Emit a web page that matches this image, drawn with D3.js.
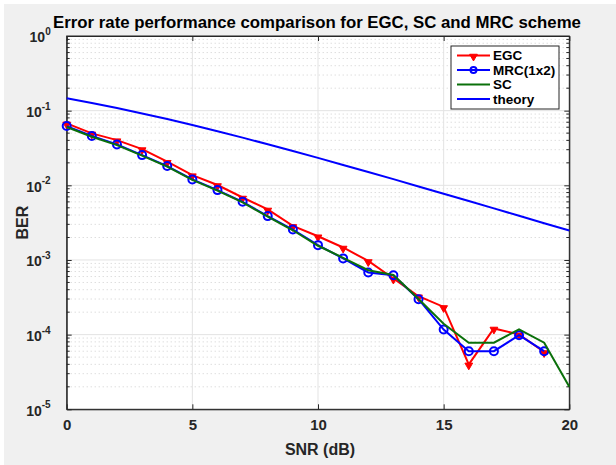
<!DOCTYPE html>
<html>
<head>
<meta charset="utf-8">
<script src="https://cdn.jsdelivr.net/npm/d3@7"></script>
<style>
  html, body { margin: 0; padding: 0; background: #fff; }
  text { font-family: "Liberation Sans", Arial, sans-serif; font-weight: bold; fill: #262626; }
</style>
</head>
<body>
<div id="chart"></div>
<script>
// SNR points (dB)
const snr = [0, 1, 2, 3, 4, 5, 6, 7, 8, 9, 10, 11, 12, 13, 14, 15, 16, 17, 18, 19];
const snrTheory = [0, 1, 2, 3, 4, 5, 6, 7, 8, 9, 10, 11, 12, 13, 14, 15, 16, 17, 18, 19, 20];

const egc = [0.0676, 0.0496, 0.0403, 0.0306, 0.0207, 0.0137, 0.0101, 0.00687, 0.00475, 0.00286,
  0.00208, 0.00147, 0.00097, 0.000565, 0.000327, 0.000235, 0.00004, 0.000121, 0.000101, 0.0000586];
const mrc = [0.0622, 0.0457, 0.0353, 0.0254, 0.0181, 0.0120, 0.00863, 0.00601, 0.00387, 0.00256,
  0.00158, 0.00105, 0.00068, 0.000625, 0.000298, 0.000117, 0.00006, 0.00006, 0.0000982, 0.00006];
const sc = [0.0605, 0.0447, 0.0345, 0.0250, 0.0178, 0.0118, 0.0085, 0.0059, 0.0038, 0.0025,
  0.00155, 0.00107, 0.00073, 0.00063, 0.0003, 0.00014, 0.000078, 0.000078, 0.000118, 0.000078, 0.00002];
const theory = [0.1464, 0.1267, 0.1085, 0.0919, 0.0771, 0.0642, 0.0530, 0.0435, 0.0355, 0.0288,
  0.0233, 0.0187, 0.0151, 0.0121, 0.00966, 0.00772, 0.00616, 0.00491, 0.00391, 0.00311, 0.00248];

const xTicks = [0, 5, 10, 15, 20];
const yExponents = [0, -1, -2, -3, -4, -5];

const legendItems = [
  { name: "EGC", color: "#ff0000", marker: "tri" },
  { name: "MRC(1x2)", color: "#0000ff", marker: "circle" },
  { name: "SC", color: "#0a700a", marker: null },
  { name: "theory", color: "#0000ff", marker: null }
];

const width = 616, height = 465;
const margin = { top: 36, right: 46.7, bottom: 55.7, left: 66.7 };

const svg = d3.select("#chart").append("svg")
  .attr("width", width).attr("height", height);

// figure background
svg.append("rect").attr("x", 4).attr("y", 4)
  .attr("width", width - 4).attr("height", height - 4)
  .attr("fill", "#f0f0f0");

const x = d3.scaleLinear().domain([0, 20])
  .range([margin.left, width - margin.right]);
const y = d3.scaleLog().domain([1e-5, 1])
  .range([height - margin.bottom, margin.top]);

svg.append("rect")
  .attr("x", x(0)).attr("y", y(1))
  .attr("width", x(20) - x(0)).attr("height", y(1e-5) - y(1))
  .attr("fill", "#fff");

// minor grid (dotted)
const minor = [];
for (let e = -5; e < 0; e++) for (let m = 2; m <= 9; m++) minor.push(m * Math.pow(10, e));
svg.append("g").selectAll("line").data(minor).join("line")
  .attr("x1", x(0)).attr("x2", x(20))
  .attr("y1", d => y(d)).attr("y2", d => y(d))
  .attr("stroke", "#cfcfcf").attr("stroke-width", 1)
  .attr("stroke-dasharray", "1,3");

// major grid
svg.append("g").selectAll("line").data(yExponents.slice(1, -1)).join("line")
  .attr("x1", x(0)).attr("x2", x(20))
  .attr("y1", d => y(Math.pow(10, d))).attr("y2", d => y(Math.pow(10, d)))
  .attr("stroke", "#e3e3e3").attr("stroke-width", 1);
svg.append("g").selectAll("line").data(xTicks.slice(1, -1)).join("line")
  .attr("x1", d => x(d)).attr("x2", d => x(d))
  .attr("y1", y(1)).attr("y2", y(1e-5))
  .attr("stroke", "#e3e3e3").attr("stroke-width", 1);

// axes
const xAxis = svg.append("g")
  .attr("transform", `translate(0,${y(1e-5)})`)
  .call(d3.axisBottom(x).tickValues(xTicks).tickSizeInner(-5).tickSizeOuter(0).tickPadding(10));
xAxis.selectAll("text").attr("font-size", 15).attr("dy", "0.7em");

svg.append("g")
  .attr("transform", `translate(0,${y(1)})`)
  .call(d3.axisTop(x).tickValues(xTicks).tickSizeInner(-5).tickSizeOuter(0).tickFormat(""));

const yAxis = svg.append("g")
  .attr("transform", `translate(${x(0)},0)`)
  .call(d3.axisLeft(y).tickValues(yExponents.map(e => Math.pow(10, e)))
    .tickSizeInner(-5).tickSizeOuter(0).tickPadding(16).tickFormat(""));
yAxis.selectAll(".tick text")
  .attr("font-size", 14).attr("dy", "0.42em")
  .each(function(d) {
    const t = d3.select(this);
    t.append("tspan").text("10");
    t.append("tspan").attr("font-size", 10).attr("dy", "-0.75em")
      .text(Math.round(Math.log10(d)));
  });

svg.append("g")
  .attr("transform", `translate(${x(20)},0)`)
  .call(d3.axisRight(y).tickValues(yExponents.map(e => Math.pow(10, e)))
    .tickSizeInner(-5).tickSizeOuter(0).tickFormat(""));

// minor ticks on left/right
svg.append("g").selectAll("line").data(minor).join("line")
  .attr("x1", x(0)).attr("x2", x(0) + 3)
  .attr("y1", d => y(d)).attr("y2", d => y(d)).attr("stroke", "#262626");
svg.append("g").selectAll("line").data(minor).join("line")
  .attr("x1", x(20)).attr("x2", x(20) - 3)
  .attr("y1", d => y(d)).attr("y2", d => y(d)).attr("stroke", "#262626");

svg.selectAll(".domain").attr("stroke", "#262626");
svg.selectAll(".tick line").attr("stroke", "#262626");
svg.append("rect")
  .attr("x", x(0)).attr("y", y(1))
  .attr("width", x(20) - x(0)).attr("height", y(1e-5) - y(1))
  .attr("fill", "none").attr("stroke", "#262626").attr("stroke-width", 1);

// series
const line = d3.line().x(d => x(d[0])).y(d => y(d[1]));
const tri = d3.symbol().type(d3.symbolTriangle).size(26);

function drawSeries(xs, ys, color, marker) {
  const pts = xs.map((d, i) => [d, ys[i]]);
  svg.append("path").datum(pts)
    .attr("fill", "none").attr("stroke", color).attr("stroke-width", 2)
    .attr("d", line);
  if (marker === "tri") {
    svg.append("g").selectAll("path").data(pts).join("path")
      .attr("d", tri)
      .attr("transform", d => `translate(${x(d[0])},${y(d[1]) + 1}) rotate(180)`)
      .attr("fill", color).attr("stroke", color).attr("stroke-width", 1);
  } else if (marker === "circle") {
    svg.append("g").selectAll("circle").data(pts).join("circle")
      .attr("cx", d => x(d[0])).attr("cy", d => y(d[1])).attr("r", 4)
      .attr("fill", "none").attr("stroke", color).attr("stroke-width", 2);
  }
}

drawSeries(snrTheory, theory, "#0000ff", null);
drawSeries(snr, egc, "#ff0000", "tri");
drawSeries(snr, mrc, "#0000ff", "circle");
drawSeries(snrTheory, sc, "#0a700a", null);

// title and labels
svg.append("text")
  .attr("x", 317).attr("y", 28)
  .attr("text-anchor", "middle").attr("font-size", 16.8)
  .style("fill", "#000")
  .text("Error rate performance comparison for EGC, SC and MRC scheme");

svg.append("text")
  .attr("x", 320).attr("y", 455)
  .attr("text-anchor", "middle").attr("font-size", 16)
  .text("SNR (dB)");

svg.append("text")
  .attr("transform", `translate(28,${(y(1) + y(1e-5)) / 2}) rotate(-90)`)
  .attr("text-anchor", "middle").attr("font-size", 16)
  .text("BER");

// legend
const lg = svg.append("g").attr("transform", "translate(451,46)");
lg.append("rect").attr("width", 108).attr("height", 63)
  .attr("fill", "#fff").attr("stroke", "#262626").attr("stroke-width", 1);
legendItems.forEach((d, i) => {
  const yy = 9.5 + i * 14.5;
  lg.append("line").attr("x1", 6).attr("x2", 39).attr("y1", yy).attr("y2", yy)
    .attr("stroke", d.color).attr("stroke-width", 2);
  if (d.marker === "tri") {
    lg.append("path").attr("d", tri)
      .attr("transform", `translate(22.5,${yy + 1}) rotate(180)`)
      .attr("fill", d.color).attr("stroke", d.color);
  } else if (d.marker === "circle") {
    lg.append("circle").attr("cx", 22.5).attr("cy", yy).attr("r", 3)
      .attr("fill", "none").attr("stroke", d.color).attr("stroke-width", 2);
  }
  lg.append("text").attr("x", 42).attr("y", yy).attr("dy", "0.35em")
    .attr("font-size", 13.5).style("fill", "#000").text(d.name);
});
</script>
</body>
</html>
